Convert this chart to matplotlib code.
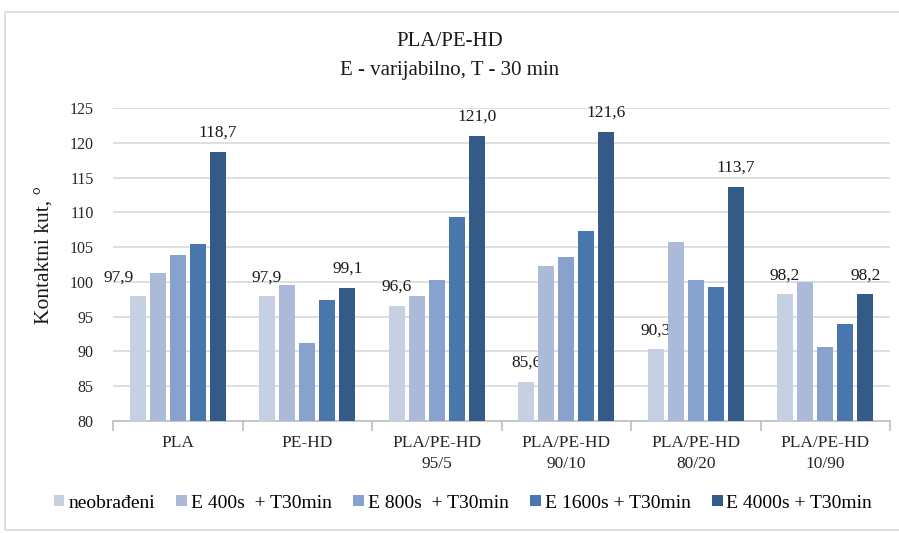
import matplotlib
matplotlib.use("Agg")
import matplotlib.pyplot as plt
import numpy as np
from matplotlib.patches import Rectangle, Patch

plt.rcParams['font.family'] = ['Liberation Serif', 'DejaVu Serif']

categories = ["PLA", "PE-HD", "PLA/PE-HD\n95/5", "PLA/PE-HD\n90/10", "PLA/PE-HD\n80/20", "PLA/PE-HD\n10/90"]
series_names = ["neobrađeni", "E 400s  + T30min", "E 800s  + T30min", "E 1600s + T30min", "E 4000s + T30min"]
neobradeni = [97.9, 97.9, 96.6, 85.6, 90.3, 98.2]
e400 = [101.3, 99.6, 97.9, 102.3, 105.7, 100.0]
e800 = [103.9, 91.2, 100.3, 103.6, 100.3, 90.7]
e1600 = [105.4, 97.4, 109.4, 107.3, 99.3, 94.0]
e4000 = [118.7, 99.1, 121.0, 121.6, 113.7, 98.2]
yticks = [80, 85, 90, 95, 100, 105, 110, 115, 120, 125]

series = [neobradeni, e400, e800, e1600, e4000]
colors = ["#C6D0E3", "#ABBAD8", "#87A2CC", "#4A76AE", "#345A88"]

fig = plt.figure(figsize=(8.99, 5.33), dpi=100)
fig.patches.append(Rectangle((5/899, 3/533), 1.2, 518/533, transform=fig.transFigure,
                             fill=False, edgecolor="#D9D9D9", linewidth=1.2))
ax = fig.add_axes([113/899, 1-421/533, 777/899, 313/533])

x = np.arange(len(categories))
step = 0.155
width = 0.122
for i, (vals, c) in enumerate(zip(series, colors)):
    pos = x + (i - 2) * step
    ax.bar(pos, vals, width=width, color=c, zorder=3, label=series_names[i])
    if i in (0, 4):
        for j, (p, v) in enumerate(zip(pos, vals)):
            dx = -14 if (i == 0 and j == 0) else 0
            ax.annotate(f"{v:.1f}".replace(".", ","), (p, v), xytext=(dx, 8),
                        textcoords="offset points", ha="center", va="bottom",
                        fontsize=12.5, color="#1a1a1a")

ax.set_ylim(80, 125)
ax.set_xlim(-0.5, len(categories) - 0.5)
ax.set_yticks(yticks)
ax.set_yticklabels([str(t) for t in yticks], fontsize=11.5, color="#262626")
ax.yaxis.grid(True, color="#D9D9D9", linewidth=1.2, zorder=0)
ax.tick_params(axis="y", length=0, pad=14)
ax.set_xticks(x)
ax.set_xticklabels(categories, fontsize=12.5, color="#262626", linespacing=1.45)
ax.set_xticks(np.arange(-0.5, len(categories)), minor=True)
ax.tick_params(axis="x", which="major", length=0, pad=10)
ax.tick_params(axis="x", which="minor", length=7, color="#BFBFBF", width=1.2)
for s in ["top", "right", "left"]:
    ax.spines[s].set_visible(False)
ax.spines["bottom"].set_color("#BFBFBF")
ax.spines["bottom"].set_linewidth(1.2)
ax.set_ylabel("Kontaktni kut, °", fontsize=15.5, color="#1a1a1a")
ax.yaxis.set_label_coords((55 - 113) / 777, 0.53)

fig.text(0.5, 1-42/533, "PLA/PE-HD", ha="center", va="center", fontsize=15, color="#1a1a1a")
fig.text(0.5, 1-70/533, "E - varijabilno, T - 30 min", ha="center", va="center", fontsize=15, color="#1a1a1a")

handles = [Patch(facecolor=c, edgecolor="none") for c in colors]
fig.legend(handles, series_names, loc="center", bbox_to_anchor=(463/899, 1-503/533), ncol=5,
           frameon=False, fontsize=14, handlelength=0.55, handleheight=0.55,
           handletextpad=0.2, columnspacing=1.1)

fig.savefig("out.png", dpi=100)
